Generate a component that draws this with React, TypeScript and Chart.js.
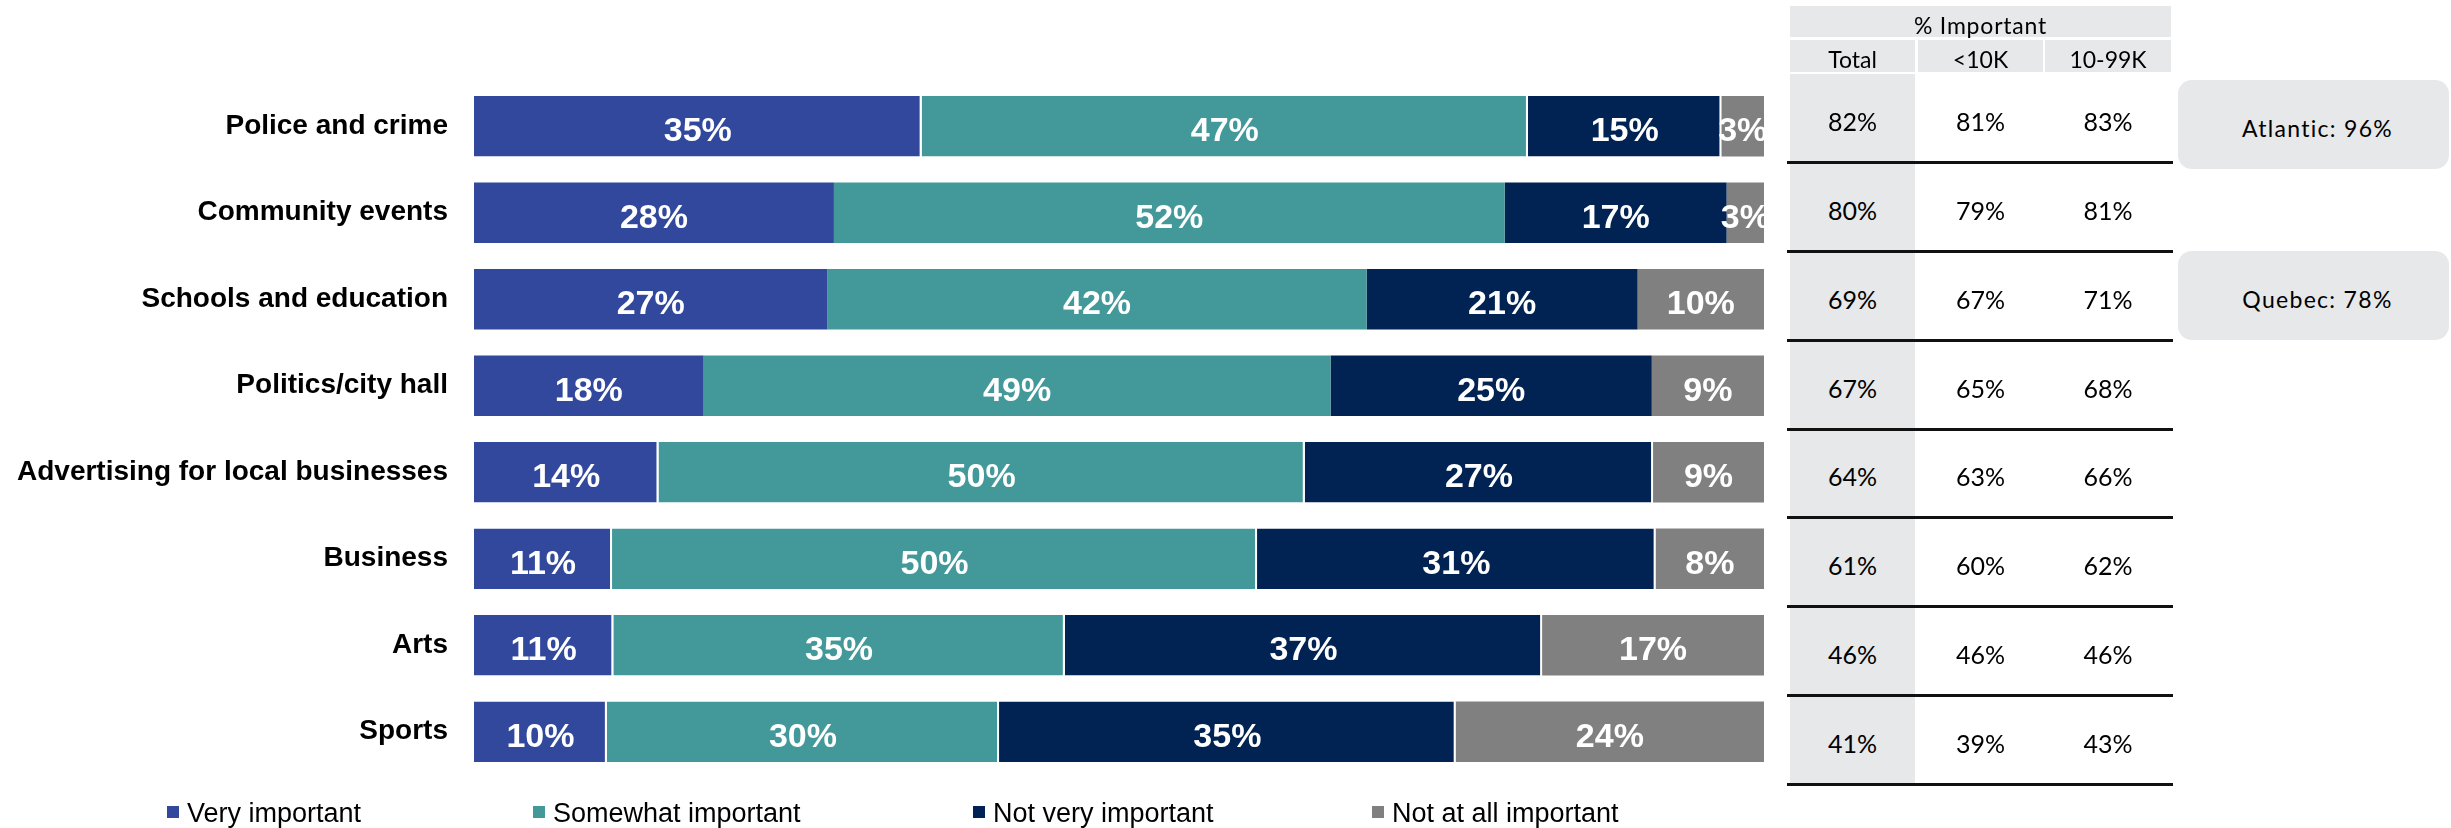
import React, { useEffect, useRef } from "react";
import { Chart, registerables } from "chart.js";

Chart.register(...registerables);

// ---------- data ----------
const categories = [
  "Police and crime",
  "Community events",
  "Schools and education",
  "Politics/city hall",
  "Advertising for local businesses",
  "Business",
  "Arts",
  "Sports",
];
const seriesNames = ["Very important", "Somewhat important", "Not very important", "Not at all important"];
const veryImportant = [34.7, 27.9, 27.4, 17.8, 14.3, 10.7, 10.8, 10.3];
const somewhatImportant = [47.0, 52.0, 41.8, 48.6, 50.1, 50.0, 35.0, 30.4];
const notVeryImportant = [15.0, 17.2, 21.0, 24.9, 27.0, 30.9, 37.0, 35.4];
const notAtAllImportant = [3.3, 2.9, 9.8, 8.7, 8.6, 8.4, 17.2, 23.9];

const tableTitle = "% Important";
const tableColumns = ["Total", "<10K", "10-99K"];
const importantTotal = [82, 80, 69, 67, 64, 61, 46, 41];
const importantUnder10K = [81, 79, 67, 65, 63, 60, 46, 39];
const important10to99K = [83, 81, 71, 68, 66, 62, 46, 43];

const calloutTexts = ["Atlantic: 96%", "Quebec: 78%"];

// ---------- style ----------
const seriesColors = ["#31489c", "#439999", "#012353", "#808080"];
const gapRows = [0, 4, 5, 6, 7];
const ARIAL = "'Liberation Sans', Arial, Helvetica, sans-serif";
const TABLE_FONT = "Lato, 'Open Sans', sans-serif";

const segmentLabelPlugin = {
  id: "segmentLabels",
  afterDatasetsDraw(chart: any) {
    const { ctx, chartArea } = chart;
    ctx.save();
    ctx.beginPath();
    ctx.rect(chartArea.left, chartArea.top, chartArea.right - chartArea.left, chartArea.bottom - chartArea.top);
    ctx.clip();
    ctx.font = `bold 34px ${ARIAL}`;
    ctx.fillStyle = "#ffffff";
    ctx.textAlign = "center";
    ctx.textBaseline = "alphabetic";
    chart.data.datasets.forEach((ds: any, di: number) => {
      const meta = chart.getDatasetMeta(di);
      meta.data.forEach((bar: any, i: number) => {
        const p = bar.getProps(["x", "base", "y"], true);
        const v = ds.data[i] as number;
        ctx.fillText(Math.round(v) + "%", (p.x + p.base) / 2, p.y + 15);
      });
    });
    ctx.restore();
  },
};

const bottomLegendPlugin = {
  id: "bottomLegend",
  afterDraw(chart: any, _args: any, opts: any) {
    const { ctx } = chart;
    ctx.save();
    ctx.font = `27px ${ARIAL}`;
    ctx.textAlign = "left";
    ctx.textBaseline = "alphabetic";
    chart.data.datasets.forEach((ds: any, i: number) => {
      const x = opts.x[i];
      ctx.fillStyle = ds.backgroundColor;
      ctx.fillRect(x, opts.boxTop, 12, 12);
      ctx.fillStyle = "#000000";
      ctx.fillText(ds.label, x + 20, opts.baseline);
    });
    ctx.restore();
  },
};

export default function App() {
  const canvasRef = useRef<HTMLCanvasElement>(null);

  useEffect(() => {
    const seriesData = [veryImportant, somewhatImportant, notVeryImportant, notAtAllImportant];
    const chart = new Chart(canvasRef.current as HTMLCanvasElement, {
      type: "bar",
      data: {
        labels: categories,
        datasets: seriesData.map((d, si) => ({
          label: seriesNames[si],
          data: d,
          backgroundColor: seriesColors[si],
          borderColor: "#ffffff",
          borderWidth: (ctx: any) =>
            si < 3 && gapRows.includes(ctx.dataIndex)
              ? { top: 0, bottom: 0, left: 0, right: 2 }
              : 0,
          borderSkipped: false,
          barPercentage: 0.7,
          categoryPercentage: 1,
        })),
      },
      options: {
        indexAxis: "y",
        animation: false,
        responsive: false,
        devicePixelRatio: 1,
        layout: { padding: { top: 83, bottom: 53, left: 0, right: 687 } },
        plugins: {
          legend: { display: false },
          tooltip: { enabled: false },
          bottomLegend: { x: [167, 533, 973, 1372], boxTop: 806, baseline: 822 },
        } as any,
        scales: {
          x: { stacked: true, min: 0, max: 100, display: false },
          y: {
            stacked: true,
            grid: { display: false, drawTicks: false },
            border: { display: false },
            ticks: {
              color: "#000000",
              padding: 26,
              font: { family: ARIAL, size: 28, weight: "bold" },
            },
            afterFit: (scale: any) => {
              scale.width = 474;
            },
          },
        },
      },
      plugins: [segmentLabelPlugin, bottomLegendPlugin],
    } as any);
    return () => chart.destroy();
  }, []);

  // table layout
  const colLefts = [1790, 1918, 2045];
  const colWidths = [125, 125, 126];
  const rowTop0 = 74;
  const rowH = 88.75;
  const tableRows = categories.map((_, i) => [importantTotal[i], importantUnder10K[i], important10to99K[i]]);
  const calloutTops = [80, 251];
  const grey = "#e7e8ea";

  const cellText = (extra: React.CSSProperties): React.CSSProperties => ({
    position: "absolute",
    display: "flex",
    alignItems: "center",
    justifyContent: "center",
    boxSizing: "border-box",
    paddingTop: 6,
    fontFamily: TABLE_FONT,
    color: "#000",
    whiteSpace: "nowrap",
    ...extra,
  });

  return (
    <div
      style={{
        position: "fixed",
        left: 0,
        top: 0,
        width: 2451,
        height: 828,
        background: "#ffffff",
        overflow: "hidden",
      }}
    >
      <canvas
        ref={canvasRef}
        width={2451}
        height={828}
        style={{ position: "absolute", left: 0, top: 0, width: 2451, height: 828 }}
      />
      {/* header */}
      <div
        style={cellText({
          left: 1790,
          top: 6,
          width: 381,
          height: 31,
          background: grey,
          fontSize: 23,
          letterSpacing: 0.8,
        })}
      >
        {tableTitle}
      </div>
      {tableColumns.map((c, j) => (
        <div
          key={c}
          style={cellText({
            left: colLefts[j],
            top: 40,
            width: colWidths[j],
            height: 32,
            background: grey,
            fontSize: 23,
          })}
        >
          {c}
        </div>
      ))}
      {/* total column shading */}
      <div
        style={{
          position: "absolute",
          left: colLefts[0],
          top: rowTop0,
          width: colWidths[0],
          height: rowH * categories.length,
          background: grey,
        }}
      />
      {tableRows.map((row, i) =>
        row.map((v, j) => (
          <div
            key={`${i}-${j}`}
            style={cellText({
              left: colLefts[j],
              top: rowTop0 + i * rowH,
              width: colWidths[j],
              height: rowH,
              fontSize: 25,
            })}
          >
            {v}%
          </div>
        ))
      )}
      {categories.map((_, i) => (
        <div
          key={`line-${i}`}
          style={{
            position: "absolute",
            left: 1787,
            width: 386,
            top: rowTop0 + (i + 1) * rowH - 1.5,
            height: 3,
            background: "#111111",
          }}
        />
      ))}
      {calloutTexts.map((t, k) => (
        <div
          key={t}
          style={cellText({
            left: 2178,
            top: calloutTops[k],
            width: 271,
            height: 89,
            background: grey,
            borderRadius: 14,
            fontSize: 23,
            letterSpacing: 1.3,
            paddingLeft: 8,
          })}
        >
          {t}
        </div>
      ))}
    </div>
  );
}
